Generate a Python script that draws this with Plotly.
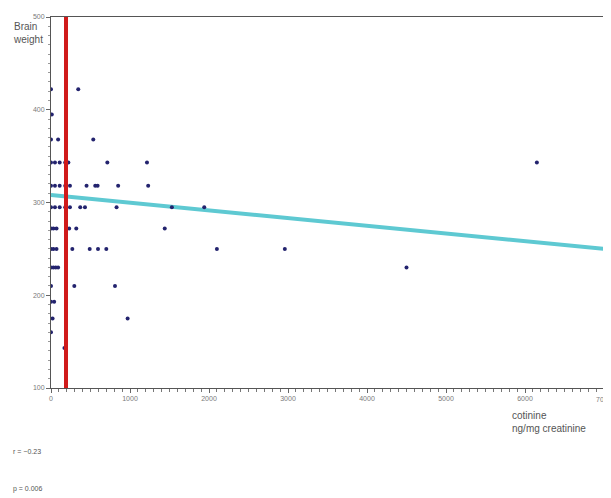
import plotly.graph_objects as go

# ---- data ----
rows_y = [422, 395, 368, 343, 318, 295, 272, 250, 230, 210, 193, 175, 160, 143]
rows_x = [
    [0, 345],
    [10],
    [0, 90, 535],
    [0, 50, 110, 180, 220, 713, 1215, 6150],
    [0, 50, 110, 180, 240, 450, 560, 590, 850, 1230],
    [0, 50, 110, 180, 240, 370, 430, 830, 1530, 1940],
    [0, 30, 70, 230, 320, 1440],
    [0, 30, 70, 270, 490, 595, 700, 2100, 2960],
    [0, 30, 60, 90, 4500],
    [0, 295, 810],
    [0, 40],
    [20, 970],
    [0],
    [170],
]
fit_x = [0, 7000]
fit_y = [308, 250]
cutoff_x = 190
x_ticks = [0, 1000, 2000, 3000, 4000, 5000, 6000, 7000]
y_ticks = [100, 200, 300, 400, 500]
r_text = "r = \u22120.23"
p_text = "p = 0.006"

pts_x, pts_y = [], []
for yv, xs in zip(rows_y, rows_x):
    for xv in xs:
        pts_x.append(xv)
        pts_y.append(yv)

fig = go.Figure()
fig.add_trace(go.Scatter(x=fit_x, y=fit_y, mode="lines",
                         line=dict(color="#5ec9d2", width=4), hoverinfo="skip"))
fig.add_trace(go.Scatter(x=pts_x, y=pts_y, mode="markers",
                         marker=dict(color="#23236e", size=4)))
fig.add_shape(type="line", xref="x", yref="paper", x0=cutoff_x, x1=cutoff_x,
              y0=0, y1=1, line=dict(color="#d01a1a", width=4), layer="above")

tickfont = dict(family="Liberation Sans, Arial, sans-serif", size=7, color="#7a7a7a")
fig.update_layout(
    width=603, height=490,
    margin=dict(l=43, r=7, t=9, b=110, autoexpand=False),
    paper_bgcolor="white", plot_bgcolor="white",
    showlegend=False,
    xaxis=dict(range=[0, 7000], tickvals=x_ticks[:-1], ticks="outside", ticklen=4,
               tickcolor="#666", showgrid=False, zeroline=False, automargin=False,
               showline=True, linecolor="#555", linewidth=1, mirror=True,
               tickfont=tickfont,
               minor=dict(dtick=100, ticks="outside", ticklen=3, tickcolor="#777")),
    yaxis=dict(range=[100, 500], tickvals=y_ticks, ticks="outside", ticklen=4,
               tickcolor="#666", showgrid=False, zeroline=False, automargin=False,
               showline=True, linecolor="#555", linewidth=1, mirror=True,
               tickfont=tickfont,
               minor=dict(dtick=10, ticks="outside", ticklen=2, tickcolor="#999")),
    font=dict(family="Liberation Sans, Arial, sans-serif"),
)

# last x tick label (cut by the page edge, as in the reference)
fig.add_annotation(text=str(x_ticks[-1]), xref="x", yref="paper",
                   x=x_ticks[-1], y=0, yshift=-6, xanchor="center", yanchor="top",
                   showarrow=False, font=tickfont)

lab = dict(family="Liberation Sans, Arial, sans-serif", size=10, color="#555")
fig.add_annotation(text="Brain<br>weight", xref="paper", yref="paper",
                   x=-0.072, y=0.995, xanchor="left", yanchor="top",
                   showarrow=False, align="left", font=lab)
fig.add_annotation(text="cotinine<br>ng/mg creatinine", xref="paper", yref="paper",
                   x=0.83, y=-0.055, xanchor="left", yanchor="top",
                   showarrow=False, align="left", font=lab)
small = dict(family="Liberation Sans, Arial, sans-serif", size=7, color="#555")
fig.add_annotation(text=r_text, xref="paper", yref="paper",
                   x=-0.072, y=-0.1725, xanchor="left", yanchor="middle",
                   showarrow=False, font=small)
fig.add_annotation(text=p_text, xref="paper", yref="paper",
                   x=-0.072, y=-0.272, xanchor="left", yanchor="middle",
                   showarrow=False, font=small)

fig.write_html("out.html")
